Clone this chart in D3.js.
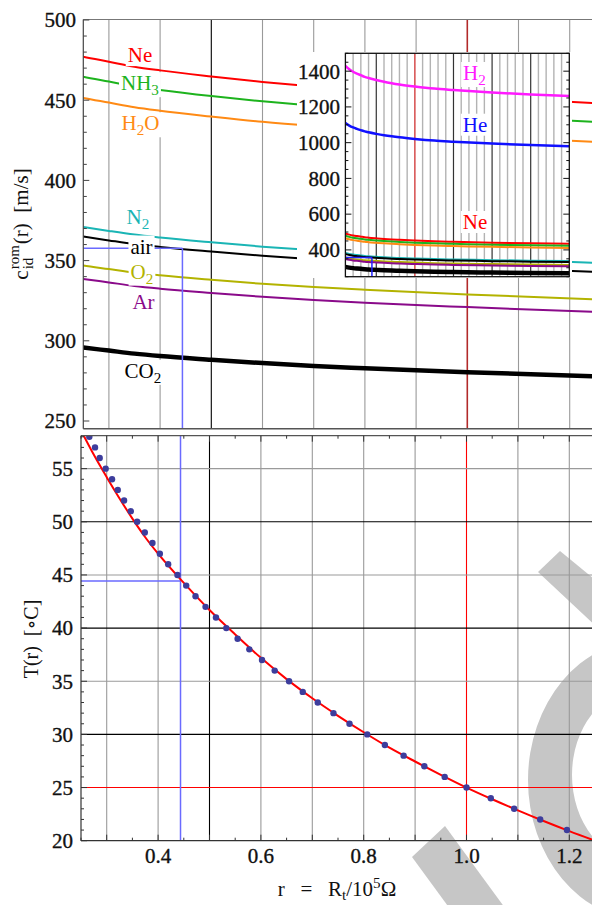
<!DOCTYPE html>
<html><head><meta charset="utf-8">
<script src="https://cdn.jsdelivr.net/npm/d3@7"></script>
<style>
body{margin:0;background:#fff}
svg{display:block}
text{font-family:"Liberation Serif","DejaVu Serif",serif;white-space:pre}
.tk{stroke:#111;stroke-width:0.35px;fill:#111}
</style></head>
<body><svg id="c" width="592" height="905"></svg>
<script>
// ---------------- data ----------------
const rGrid = [0.1,0.15,0.2,0.25,0.3,0.35,0.4,0.5,0.6,0.7,0.8,1.0,1.25,1.5,2.0,2.5,3.0];
const cH2  = [1429.4,1410.4,1396.6,1386.4,1377.4,1368.5,1361.7,1350.6,1340.7,1332.7,1325.7,1314.3,1302.4,1294.3,1280.4,1269.9,1261.4];
const cHe  = [1110.4,1095.7,1085.0,1077.0,1070.0,1063.2,1057.9,1049.2,1041.6,1035.3,1029.9,1021.0,1011.8,1005.5,994.7,986.6,980.0];
const cNe  = [491.9,485.4,480.6,477.1,474.0,470.9,468.6,464.8,461.4,458.6,456.2,452.3,448.2,445.4,440.6,437.0,434.1];
const cNH3 = [479.0,472.7,468.1,464.6,461.6,458.6,456.4,452.6,449.3,446.6,444.3,440.5,436.5,433.8,429.1,425.6,422.8];
const cH2O = [465.4,459.2,454.7,451.4,448.5,445.6,443.4,439.8,436.5,433.9,431.7,427.9,424.0,421.4,416.9,413.5,410.7];
const cN2  = [382.5,377.4,373.7,371.0,368.5,366.2,364.4,361.4,358.7,356.6,354.7,351.7,348.5,346.3,342.6,339.8,337.5];
const cAir = [376.3,371.3,367.7,365.0,362.6,360.3,358.5,355.6,353.0,350.9,349.0,346.0,342.9,340.8,337.1,334.3,332.1];
const cO2  = [357.7,352.9,349.5,346.9,344.7,342.5,340.8,338.0,335.5,333.5,331.8,328.9,325.9,323.9,320.4,317.8,315.7];
const cAr  = [349.1,344.4,341.0,338.6,336.4,334.2,332.5,329.8,327.4,325.4,323.7,321.0,318.0,316.1,312.7,310.1,308.0];
const cCO2 = [305.0,300.9,298.0,295.8,293.9,292.0,290.5,288.2,286.1,284.3,282.9,280.4,277.9,276.2,273.2,270.9,269.1];

const rFit = [0.25,0.275,0.3,0.325,0.35,0.375,0.4,0.45,0.5,0.55,0.6,0.65,0.7,0.75,0.8,0.85,0.9,0.95,1.0,1.05,1.1,1.15,1.2,1.25];
const tFit = [58.6,56.3,54.2,52.2,50.3,48.55,47.0,44.25,41.7,39.4,37.2,35.2,33.4,31.75,30.2,28.75,27.45,26.2,25.0,23.9,22.85,21.85,20.9,20.0];

const rMeas = [0.2662,0.2773,0.2864,0.298,0.3104,0.3215,0.3338,0.3468,0.3592,0.3741,0.389,0.4034,0.4196,0.4377,0.4547,0.4728,0.4923,0.5126,0.5327,0.5547,0.5775,0.6022,0.6268,0.6548,0.6814,0.7106,0.7412,0.7724,0.8069,0.8412,0.8777,0.918,0.9576,1.0,1.0473,1.0927,1.1434,1.1954];
const tMeas = [58,57,56,55,54,53,52,51,50,49,48,47,46,45,44,43,42,41,40,39,38,37,36,35,34,33,32,31,30,29,28,27,26,25,24,23,22,21];

const rCross = 0.4436, tCross = 44.43, cCross = 357.7;

const topYTicks = [250,300,350,400,450,500];
const insetYTicks = [400,600,800,1000,1200,1400];
const botYTicks = [20,25,30,35,40,45,50,55];
const botXTicks = [0.4,0.6,0.8,1.0,1.2];
const mainGridR = [0.3,0.4,0.5,0.6,0.7,0.8,0.9,1.0,1.1,1.2];

// ---------------- setup ----------------
const svg = d3.select('#c');
const defs = svg.append('defs');
const gases = [
  {name:'Ne',  c:cNe,  col:'#ff0000', w:2},
  {name:'NH3', c:cNH3, col:'#1db31d', w:2},
  {name:'H2O', c:cH2O, col:'#ff8a14', w:2},
  {name:'N2',  c:cN2,  col:'#1ab5b5', w:2},
  {name:'air', c:cAir, col:'#000000', w:2},
  {name:'O2',  c:cO2,  col:'#b3b300', w:2},
  {name:'Ar',  c:cAr,  col:'#8a0a8a', w:2},
  {name:'CO2', c:cCO2, col:'#000000', w:4.5}
];

const xT = d3.scaleLinear().domain([0.25,1.25]).range([83.3,595.3]);
const yT = d3.scaleLinear().domain([245.2,500]).range([428.7,20]);
const xI = d3.scaleLinear().domain([0.1,3.0]).range([345.4,569.3]);
const yI = d3.scaleLinear().domain([250,1500]).range([276.7,53.3]);
const xB = d3.scaleLinear().domain([0.25,1.25]).range([81,595]);
const yB = d3.scaleLinear().domain([20,58.1]).range([840.7,435.7]);

function clip(id,x,y,w,h){defs.append('clipPath').attr('id',id).append('rect').attr('x',x).attr('y',y).attr('width',w).attr('height',h);}
clip('cT',83.3,19.5,520,409.2);
clip('cI',345.4,53.3,223.9,223.4);
clip('cB',81,435.7,520,405);

function richText(g,x,y,parts,col,size,anchor,subDy){
  const sd = subDy||5;
  const t=g.append('text').attr('x',x).attr('y',y).attr('fill',col).attr('font-size',size).attr('text-anchor',anchor||'middle');
  let shift=0;
  parts.forEach(p=>{
    const s=t.append('tspan').text(p[0]);
    if(p[1]==='sub'){s.attr('font-size',size*0.72).attr('dy',sd-shift);shift=sd;}
    else if(p[1]==='sup'){s.attr('font-size',size*0.72).attr('dy',-8-shift);shift=-8;}
    else {if(shift){s.attr('dy',-shift);shift=0;}}
  });
  return t;
}
function boxedLabel(g,x,y,parts,col,size){
  const bg=g.append('rect').attr('fill','#fff');
  const t=richText(g,x,y,parts,col,size);
  const b=t.node().getBBox();
  bg.attr('x',b.x-2).attr('y',b.y+1).attr('width',b.width+4).attr('height',b.height-2);
  return t;
}
function sub(name){
  const m={NH3:[['NH'],['3','sub']],H2O:[['H'],['2','sub'],['O']],N2:[['N'],['2','sub']],O2:[['O'],['2','sub']],CO2:[['CO'],['2','sub']],H2:[['H'],['2','sub']]};
  return m[name]||[[name]];
}

// ---------------- BOTTOM PANEL watermark (decorative, under everything) ----------------
const gB = svg.append('g');
const wm = gB.append('g').attr('fill','#c6c6c6');
wm.append('path').attr('fill-rule','evenodd').attr('d',
  'M 645 780 m -117 0 a 117 140 0 1 0 234 0 a 117 140 0 1 0 -234 0 Z ' +
  'M 640 775 m -68 0 a 68 86 0 1 0 136 0 a 68 86 0 1 0 -136 0 Z');
wm.append('path').attr('d','M 412 857 L 445 826 L 516 923 L 483 954 Z');
wm.append('path').attr('d','M 538 572 L 560 551 L 620 600 L 598 628 Z');

// ---------------- TOP PANEL ----------------
const gT = svg.append('g');
const gTc = gT.append('g').attr('clip-path','url(#cT)');
mainGridR.forEach(r=>{
  const col = r===0.5?'#000':(r===1.0?'#b22a2a':'#9a9a9a');
  gTc.append('line').attr('x1',xT(r)).attr('x2',xT(r)).attr('y1',19.5).attr('y2',428.7)
     .attr('stroke',col).attr('stroke-width',r===1.0?1.6:1.1);
});
const lineT = d3.line().x((d,i)=>xT(rGrid[i])).y(d=>yT(d)).curve(d3.curveMonotoneX);
gases.forEach(gs=>{
  gTc.append('path').attr('d',lineT(gs.c)).attr('fill','none').attr('stroke',gs.col).attr('stroke-width',gs.w);
});
gTc.append('line').attr('x1',xT(0.25)).attr('x2',xT(rCross)).attr('y1',yT(cCross)).attr('y2',yT(cCross)).attr('stroke','#6a6aff').attr('stroke-width',1.5);
gTc.append('line').attr('x1',xT(rCross)).attr('x2',xT(rCross)).attr('y1',yT(cCross)).attr('y2',428.7).attr('stroke','#6a6aff').attr('stroke-width',1.5);

const topLabels = [
  {n:'Ne', r:0.3607, c:473.75, col:'#ff0000'},
  {n:'NH3',r:0.3607, c:456.25, col:'#1db31d'},
  {n:'H2O',r:0.3617, c:431.25, col:'#ff8a14'},
  {n:'N2', r:0.3568, c:373.1,  col:'#1ab5b5'},
  {n:'air',r:0.3637, c:354.4,  col:'#000'},
  {n:'O2', r:0.3646, c:338.75, col:'#b3b300'},
  {n:'Ar', r:0.3676, c:320.0,  col:'#8a0a8a'},
  {n:'CO2',r:0.3666, c:276.9,  col:'#000'}
];
topLabels.forEach(l=>boxedLabel(gT,xT(l.r),yT(l.c),sub(l.n),l.col,21));

gT.append('line').attr('x1',83.3).attr('x2',592).attr('y1',19.5).attr('y2',19.5).attr('stroke','#777').attr('stroke-width',1.2);
gT.append('line').attr('x1',83.3).attr('x2',592).attr('y1',428.7).attr('y2',428.7).attr('stroke','#555').attr('stroke-width',1.4);
gT.append('line').attr('x1',83.3).attr('x2',83.3).attr('y1',19.5).attr('y2',428.7).attr('stroke','#444').attr('stroke-width',1.2);
d3.range(250,501,10).forEach(v=>{
  const major = v%50===0;
  gT.append('line').attr('x1',83.3).attr('x2',83.3+(major?6:3.5)).attr('y1',yT(v)).attr('y2',yT(v)).attr('stroke','#444').attr('stroke-width',1);
});
topYTicks.forEach(v=>{
  gT.append('text').attr('class','tk').attr('x',76).attr('y',yT(v)).attr('dy','0.35em').attr('text-anchor','end').attr('font-size',21).text(v);
});

// ---------------- INSET ----------------
const gI = svg.append('g');
gI.append('rect').attr('x',297).attr('y',52).attr('width',275).attr('height',226).attr('fill','#fff');
const gIc = gI.append('g').attr('clip-path','url(#cI)');
d3.range(2,30).map(i=>i/10).forEach(r=>{
  const isHalf = Math.abs(r*2-Math.round(r*2))<1e-6;
  const col = Math.abs(r-1)<1e-6?'#cc1f1f':(isHalf?'#333':'#b3b3b3');
  gIc.append('line').attr('x1',xI(r)).attr('x2',xI(r)).attr('y1',53.3).attr('y2',276.7).attr('stroke',col).attr('stroke-width',isHalf?1.2:1.4);
});
const lineI = d3.line().x((d,i)=>xI(rGrid[i])).y(d=>yI(d)).curve(d3.curveMonotoneX);
[{c:cH2,col:'#ff1aff',w:2.5},{c:cHe,col:'#1010ff',w:2.5}].concat(gases).forEach(gs=>{
  gIc.append('path').attr('d',lineI(gs.c)).attr('fill','none').attr('stroke',gs.col).attr('stroke-width',gs.w);
});
gIc.append('line').attr('x1',xI(rCross)).attr('x2',xI(rCross)).attr('y1',yI(cCross)).attr('y2',276.7).attr('stroke','#2020ff').attr('stroke-width',1.5);
gIc.append('line').attr('x1',xI(0.1)).attr('x2',xI(rCross)).attr('y1',yI(cCross)).attr('y2',yI(cCross)).attr('stroke','#2020ff').attr('stroke-width',1.5);
const insetLabels = [
  {n:'H2',r:1.772,c:1350.6,col:'#ff1aff'},
  {n:'He',r:1.779,c:1061.3,col:'#1010ff'},
  {n:'Ne',r:1.779,c:516.9,col:'#ff0000'}
];
insetLabels.forEach(l=>boxedLabel(gI,xI(l.r),yI(l.c),sub(l.n),l.col,21));
gI.append('rect').attr('x',345.4).attr('y',53.3).attr('width',223.9).attr('height',223.4).attr('fill','none').attr('stroke','#111').attr('stroke-width',1.3);
d3.range(250,1501,50).forEach(v=>{
  const major = v%200===0;
  const L = major?6:3;
  gI.append('line').attr('x1',345.4).attr('x2',345.4+L).attr('y1',yI(v)).attr('y2',yI(v)).attr('stroke','#111');
  gI.append('line').attr('x1',569.3).attr('x2',569.3-L).attr('y1',yI(v)).attr('y2',yI(v)).attr('stroke','#111');
});
insetYTicks.forEach(v=>{
  gI.append('text').attr('class','tk').attr('x',340).attr('y',yI(v)).attr('dy','0.35em').attr('text-anchor','end').attr('font-size',21).text(v);
});

// y-axis title (top)
(function(){
  const g = svg.append('g').attr('transform','translate(28,224) rotate(-90)');
  const fs=21;
  const c = g.append('text').attr('x',0).attr('y',0).attr('font-size',fs).text('c');
  const wc = c.node().getComputedTextLength();
  const s1 = g.append('text').attr('x',wc+1).attr('y',-9).attr('font-size',15).text('rom');
  const s2 = g.append('text').attr('x',wc+1).attr('y',5).attr('font-size',15).text('id');
  const ws = Math.max(s1.node().getComputedTextLength(),s2.node().getComputedTextLength());
  const rest = g.append('text').attr('x',wc+ws+2).attr('y',0).attr('font-size',fs).text('(r)  [m/s]');
  const tot = wc+ws+2+rest.node().getComputedTextLength();
  g.selectAll('text').attr('transform',`translate(${-tot/2},0)`).attr('fill','#111');
})();

// ---------------- BOTTOM PANEL ----------------
const gBc = gB.append('g').attr('clip-path','url(#cB)');
mainGridR.forEach(r=>{
  const col = r===0.5?'#000':(r===1.0?'#ff0000':'#9a9a9a');
  gBc.append('line').attr('x1',xB(r)).attr('x2',xB(r)).attr('y1',435.7).attr('y2',840.7).attr('stroke',col).attr('stroke-width',1.1);
});
[25,30,35,40,45,50,55].forEach(v=>{
  const col = v===25?'#ff0000':(v%10===0?'#000':'#9a9a9a');
  gBc.append('line').attr('x1',81).attr('x2',595).attr('y1',yB(v)).attr('y2',yB(v)).attr('stroke',col).attr('stroke-width',1.1);
});
gBc.append('line').attr('x1',xB(rCross)).attr('x2',xB(rCross)).attr('y1',435.7).attr('y2',840.7).attr('stroke','#6a6aff').attr('stroke-width',1.5);
gBc.append('line').attr('x1',81).attr('x2',xB(rCross)).attr('y1',yB(tCross)).attr('y2',yB(tCross)).attr('stroke','#6a6aff').attr('stroke-width',1.5);

const lineB = d3.line().x((d,i)=>xB(rFit[i])).y(d=>yB(d)).curve(d3.curveMonotoneX);
gBc.append('path').attr('d',lineB(tFit)).attr('fill','none').attr('stroke','#ff0000').attr('stroke-width',2);
gBc.selectAll('circle').data(rMeas).enter().append('circle')
  .attr('cx',d=>xB(d)).attr('cy',(d,i)=>yB(tMeas[i])).attr('r',3.2).attr('fill','#3d3d9c');

gB.append('line').attr('x1',81).attr('x2',592).attr('y1',435.7).attr('y2',435.7).attr('stroke','#555').attr('stroke-width',1.2);
gB.append('line').attr('x1',81).attr('x2',592).attr('y1',840.7).attr('y2',840.7).attr('stroke','#333').attr('stroke-width',1.3);
gB.append('line').attr('x1',81).attr('x2',81).attr('y1',435.7).attr('y2',840.7).attr('stroke','#333').attr('stroke-width',1.2);
d3.range(20,59,1).forEach(v=>{
  const major = v%5===0;
  gB.append('line').attr('x1',81).attr('x2',81+(major?6:3)).attr('y1',yB(v)).attr('y2',yB(v)).attr('stroke','#333');
});
d3.range(5,25).map(i=>i*0.05).forEach(r=>{
  const major = Math.abs(r*10-Math.round(r*10))<1e-6;
  const L = major?6:3;
  gB.append('line').attr('x1',xB(r)).attr('x2',xB(r)).attr('y1',840.7).attr('y2',840.7-L).attr('stroke','#333');
  gB.append('line').attr('x1',xB(r)).attr('x2',xB(r)).attr('y1',435.7).attr('y2',435.7+L).attr('stroke','#333');
});
botYTicks.forEach(v=>{
  gB.append('text').attr('class','tk').attr('x',73).attr('y',yB(v)).attr('dy','0.35em').attr('text-anchor','end').attr('font-size',21).text(v);
});
botXTicks.forEach(v=>{
  gB.append('text').attr('class','tk').attr('x',xB(v)).attr('y',863).attr('text-anchor','middle').attr('font-size',21).text(d3.format('.1f')(v));
});

// axis titles (bottom)
richText(svg,337,896,[['r   =   R'],['t','sub'],['/10'],['5','sup'],['Ω']],'#111',21,'middle',4);
svg.append('text').attr('transform','translate(38,639) rotate(-90)').attr('text-anchor','middle').attr('font-size',20).attr('fill','#111').text('T(r)  [∘C]');
</script></body></html>
